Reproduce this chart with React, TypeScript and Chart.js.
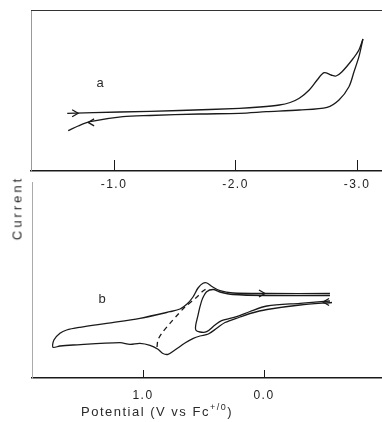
import React, { useEffect, useRef } from "react";
import { Chart, registerables } from "chart.js";

Chart.register(...registerables);

// ---------- Panel a (potential V vs Fc+/0, current in arbitrary units) ----------
const aForwardV = [-0.615, -1.049, -1.541, -2.033, -2.2, -2.361, -2.45, -2.525, -2.607, -2.672, -2.73, -2.787, -2.828, -2.877, -2.959, -3.016, -3.049];
const aForwardI = [5.77, 5.9, 6.05, 6.27, 6.4, 6.6, 6.85, 7.27, 8.1, 9.1, 9.83, 9.6, 9.5, 9.93, 11.1, 12.1, 13.2];
const aReturnV = [-3.049, -3.016, -2.975, -2.934, -2.852, -2.754, -2.525, -2.254, -2.033, -1.705, -1.295, -1.074, -0.803, -0.705, -0.623];
const aReturnI = [13.2, 11.43, 9.9, 8.43, 7.1, 6.37, 6.1, 5.93, 5.77, 5.7, 5.55, 5.43, 4.93, 4.5, 4.03];
const aTicks = [-1, -2, -3];
const aArrowV = [-0.705, -0.787];
const aArrowI = [5.78, 4.86];
const aArrowDir = [1, -1];

// ---------- Panel b ----------
const bOuterV = [-0.562, -0.298, -0.025, 0.116, 0.198, 0.322, 0.391, 0.46, 0.529, 0.584, 0.653, 0.736, 0.793, 0.835, 0.876, 0.942, 1.025, 1.107, 1.19, 1.579, 1.686, 1.744, 1.736, 1.686, 1.631, 1.521, 1.3, 1.025, 0.777, 0.694, 0.636, 0.587, 0.545, 0.504, 0.471, 0.43, 0.364, 0.256, -0.025, -0.545];
const bOuterI = [7.55, 7.3, 6.85, 6.45, 6.1, 5.55, 4.97, 4.4, 4.2, 3.97, 3.5, 2.8, 2.37, 2.45, 2.87, 3.27, 3.47, 3.37, 3.53, 3.3, 3.2, 3.07, 3.8, 4.47, 4.8, 5.07, 5.47, 5.97, 6.63, 6.9, 7.4, 8.1, 9.0, 9.47, 9.5, 9.15, 8.73, 8.5, 8.45, 8.45];
const bInnerV = [-0.545, -0.025, 0.256, 0.364, 0.419, 0.474, 0.507, 0.529, 0.548, 0.564, 0.564, 0.529, 0.474, 0.405, 0.35, 0.226, 0.116, -0.025, -0.298, -0.545];
const bInnerI = [8.25, 8.25, 8.35, 8.6, 8.85, 8.63, 7.97, 7.13, 6.13, 5.3, 4.8, 4.6, 4.63, 5.3, 5.73, 6.13, 6.65, 7.2, 7.47, 7.7];
const bDashV = [0.884, 0.876, 0.843, 0.777, 0.719, 0.653, 0.554, 0.504, 0.463];
const bDashI = [3.1, 3.8, 4.5, 5.47, 6.25, 7.1, 8.1, 8.7, 9.0];
const bTicks = [1, 0];
const bArrowV = [-0.008, -0.488];
const bArrowI = [8.45, 7.6];
const bArrowDir = [1, -1];

const zip = (xs: number[], ys: number[]) => xs.map((x, i) => ({ x, y: ys[i] }));

const INK = "#1a1a1a";
const FONT = "'Liberation Sans', 'DejaVu Sans', sans-serif";

const framePlugin = {
  id: "frame",
  beforeDraw(chart: any) {
    (chart.ctx as any).letterSpacing = "1.5px";
  },
  afterDraw(chart: any, _args: any, opts: any) {
    const { ctx, chartArea, scales } = chart;
    const xs = scales.x;
    const ys = scales.y;
    ctx.save();
    ctx.strokeStyle = INK;
    ctx.lineWidth = 1;
    // inward tick marks
    xs.ticks.forEach((t: any) => {
      const px = Math.round(xs.getPixelForValue(t.value)) + 0.5;
      ctx.beginPath();
      ctx.moveTo(px, chartArea.bottom);
      ctx.lineTo(px, chartArea.bottom - opts.tickLen);
      ctx.stroke();
    });
    if (opts.top) {
      ctx.strokeStyle = "#333";
      ctx.beginPath();
      ctx.moveTo(chartArea.left, chartArea.top + 0.5);
      ctx.lineTo(chartArea.right, chartArea.top + 0.5);
      ctx.stroke();
    }
    // arrowheads along the scans
    ctx.strokeStyle = INK;
    ctx.lineWidth = 1.3;
    (opts.arrowV as number[]).forEach((v, i) => {
      const px = xs.getPixelForValue(v);
      const py = ys.getPixelForValue(opts.arrowI[i]);
      const d = opts.arrowDir[i];
      ctx.beginPath();
      ctx.moveTo(px - d * 6, py - 3.5);
      ctx.lineTo(px, py);
      ctx.lineTo(px - d * 6, py + 3.5);
      ctx.stroke();
    });
    ctx.restore();
  },
};

function makeChart(
  canvas: HTMLCanvasElement,
  datasets: any[],
  xMin: number,
  xMax: number,
  yMax: number,
  ticks: number[],
  leftW: number,
  bottomH: number,
  padTop: number,
  labelPad: number,
  frameOpts: any,
  yBorder: any
) {
  return new Chart(canvas, {
    type: "line",
    data: { datasets },
    options: {
      animation: false,
      responsive: false,
      devicePixelRatio: 1,
      layout: { padding: { top: padTop, left: 0, right: 0, bottom: 0 } },
      plugins: {
        legend: { display: false },
        tooltip: { enabled: false },
        frame: frameOpts,
      } as any,
      elements: { point: { radius: 0 } },
      scales: {
        x: {
          type: "linear",
          min: xMin,
          max: xMax,
          reverse: true,
          afterBuildTicks: (s: any) => {
            s.ticks = ticks.map((v) => ({ value: v }));
          },
          afterFit: (s: any) => {
            s.height = bottomH;
          },
          ticks: {
            color: "#222",
            padding: labelPad,
            maxRotation: 0,
            font: { family: FONT, size: 12 },
            callback: (v: any) => Number(v).toFixed(1),
          },
          grid: { display: false, drawTicks: false },
          border: { display: true, color: INK, width: 1.4 },
        },
        y: {
          type: "linear",
          min: 0,
          max: yMax,
          afterFit: (s: any) => {
            s.width = leftW;
          },
          ticks: { display: false },
          grid: { display: false, drawTicks: false },
          border: yBorder,
        },
      },
    },
    plugins: [framePlugin as any],
  });
}

const lineStyle = {
  borderColor: INK,
  borderWidth: 1.3,
  pointRadius: 0,
  tension: 0.3,
  fill: false,
  showLine: true,
};

export default function App() {
  const refA = useRef<HTMLCanvasElement>(null);
  const refB = useRef<HTMLCanvasElement>(null);

  useEffect(() => {
    const chartA = makeChart(
      refA.current!,
      [
        { ...lineStyle, data: zip(aForwardV, aForwardI) },
        { ...lineStyle, data: zip(aReturnV, aReturnI) },
      ],
      -3.206,
      -0.317,
      16.1,
      aTicks,
      31,
      29,
      10,
      6,
      { tickLen: 11, top: true, arrowV: aArrowV, arrowI: aArrowI, arrowDir: aArrowDir },
      { display: true, color: "#999", width: 1, dash: [2, 2] }
    );
    const chartB = makeChart(
      refB.current!,
      [
        { ...lineStyle, data: zip(bOuterV, bOuterI) },
        { ...lineStyle, data: zip(bInnerV, bInnerI) },
        { ...lineStyle, borderDash: [5, 4], data: zip(bDashV, bDashI) },
      ],
      -0.975,
      1.917,
      19.6,
      bTicks,
      32,
      44,
      7,
      10,
      { tickLen: 8, top: false, arrowV: bArrowV, arrowI: bArrowI, arrowDir: bArrowDir },
      { display: true, color: "#aaa", width: 1 }
    );
    return () => {
      chartA.destroy();
      chartB.destroy();
    };
  }, []);

  const textBase: React.CSSProperties = {
    position: "absolute",
    fontFamily: FONT,
    color: "#2a2a2a",
    whiteSpace: "nowrap",
    lineHeight: 1,
  };

  return (
    <div style={{ position: "absolute", left: 0, top: 0, width: 382, height: 422, background: "#fff", overflow: "hidden" }}>
      <canvas ref={refA} width={382} height={200} style={{ position: "absolute", left: 0, top: 0 }} />
      <canvas ref={refB} width={382} height={247} style={{ position: "absolute", left: 0, top: 175 }} />
      <div style={{ ...textBase, left: 100, top: 82, fontSize: 13, transform: "translate(-50%,-50%)" }}>a</div>
      <div style={{ ...textBase, left: 102, top: 298, fontSize: 13, transform: "translate(-50%,-50%)" }}>b</div>
      <div
        style={{
          ...textBase,
          left: 17,
          top: 208,
          fontSize: 13,
          letterSpacing: "3px",
          transform: "translate(-50%,-50%) rotate(-90deg)",
        }}
      >
        Current
      </div>
      <div
        style={{
          ...textBase,
          left: 157,
          top: 411,
          fontSize: 13,
          letterSpacing: "1.5px",
          transform: "translate(-50%,-50%)",
        }}
      >
        Potential (V vs Fc<sup style={{ fontSize: 9, verticalAlign: "6px", lineHeight: 0 }}>+/0</sup>)
      </div>
    </div>
  );
}
